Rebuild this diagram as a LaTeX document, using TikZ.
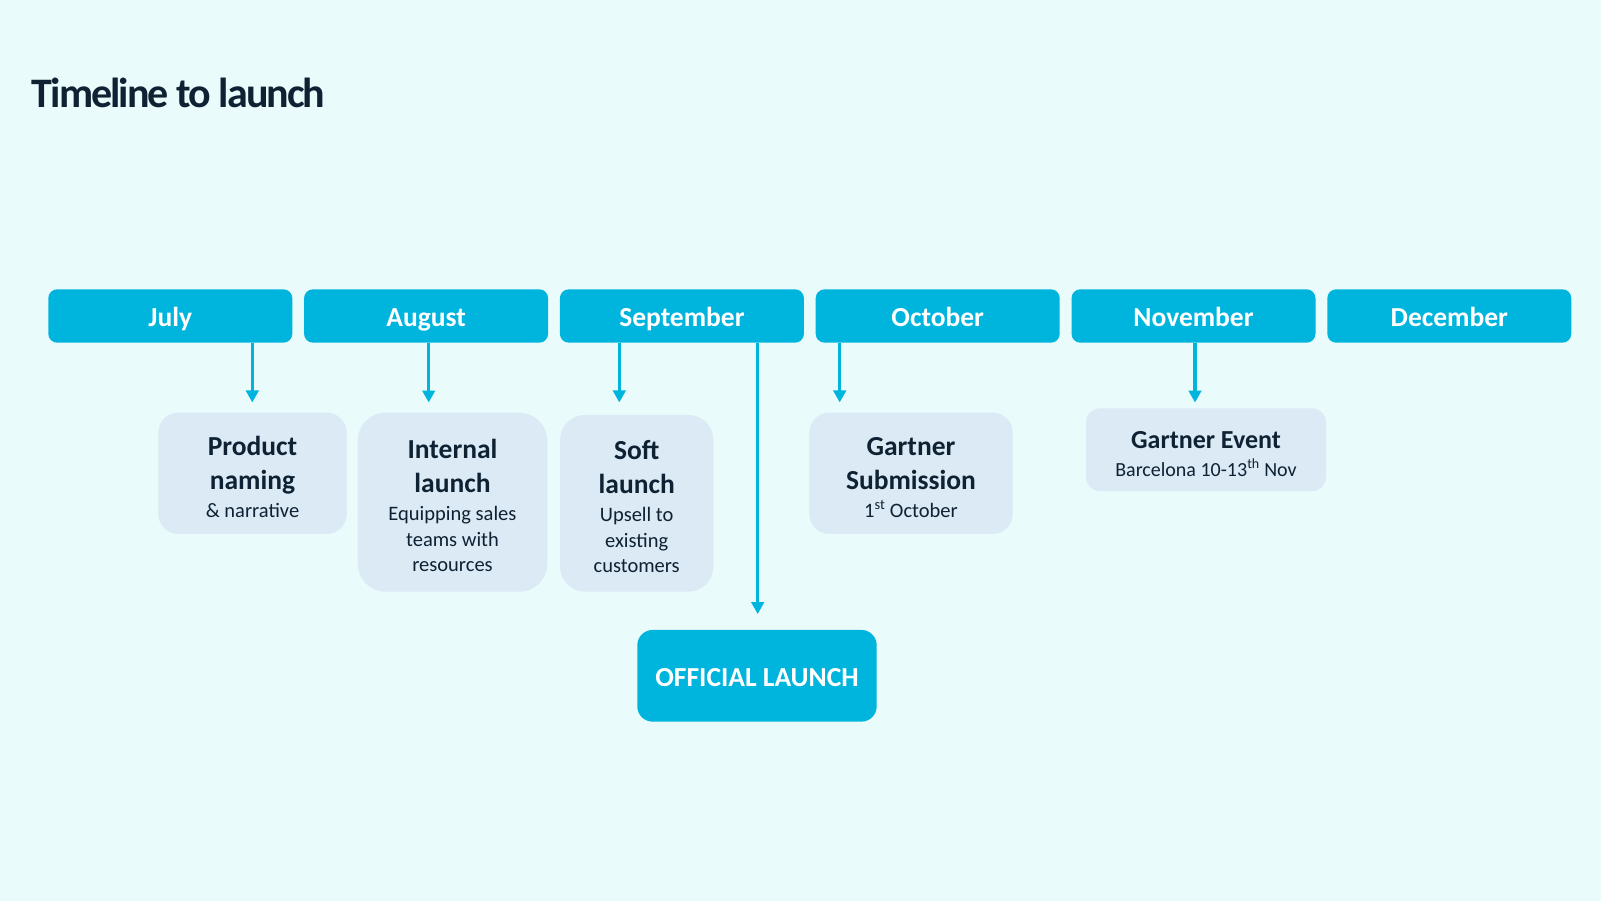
\documentclass[tikz,border=0pt]{standalone}
\usepackage{fontspec}
\setmainfont{Carlito}
\usetikzlibrary{arrows.meta}

\definecolor{sfondo}{RGB}{234,251,252}
\definecolor{ciano}{RGB}{0,181,221}
\definecolor{pallido}{RGB}{219,234,244}
\definecolor{inchiostro}{RGB}{14,34,51}

% righe in grassetto e righe piccole dentro i riquadri
\newcommand{\grosso}{\fontsize{27.5}{34.3}\bfseries\selectfont}
\newcommand{\piccolo}{\par\vspace{2pt}\fontsize{20.5}{25.7}\mdseries\selectfont}

\begin{document}
\begin{tikzpicture}[
    x=1pt,y=-1pt,
    mese/.style={rectangle,rounded corners=8.9pt,fill=ciano,text=white,inner sep=0pt,
      minimum width=244pt,minimum height=53.4pt,text height=20.5pt,text depth=0pt,
      font=\fontsize{27.5}{33}\bfseries\selectfont},
    evento/.style={rectangle,fill=pallido,text=inchiostro,inner sep=0pt,
      align=flush center,font=\grosso,execute at begin node={\rule{0pt}{26pt}}},
    lancio/.style={rectangle,rounded corners=15.3pt,fill=ciano,text=white,inner sep=0pt,
      minimum width=239.4pt,minimum height=91.7pt,text height=22pt,text depth=0pt,
      font=\fontsize{27.5}{33}\bfseries\selectfont},
    freccia/.style={draw=ciano,line width=3.5pt,-{Triangle[length=12pt,width=12.5pt]}}]

  \fill[sfondo] (0,0) rectangle (1601,901);
  \useasboundingbox (0,0) rectangle (1601,901);

  % ---- titolo ----------------------------------------------------------
  \node[anchor=base west,inner sep=0pt,text=inchiostro,
        font=\fontsize{42}{50}\bfseries\addfontfeatures{LetterSpace=-4.6}\selectfont]
    (titolo) at (31.5,107.3) {Timeline to launch};

  % ---- mesi ------------------------------------------------------------
  \foreach \n/\m [count=\i from 0] in {lug/July,ago/August,set/September,
                                        ott/October,nov/November,dic/December}
    \node[mese] (\n) at ({170.3+255.8*\i},316) {\m};

  % ---- riquadri --------------------------------------------------------
  \node[evento,minimum width=188.4pt,minimum height=121.3pt,text width=188.4pt,
        rounded corners=20pt] (prod) at (252.5,473.3)
    {Product\\ naming\piccolo \& narrative\par};

  \node[evento,minimum width=189.6pt,minimum height=179pt,text width=189.6pt,
        rounded corners=28pt] (intl) at (452.5,502.2)
    {Internal\\ launch\piccolo Equipping sales\\ teams with\\ resources\par};

  \node[evento,minimum width=153.3pt,minimum height=176.7pt,text width=153.3pt,
        rounded corners=25pt] (soft) at (636.7,503.3)
    {Soft\\ launch\piccolo Upsell to\\ existing\\ customers\par};

  \node[evento,minimum width=203.4pt,minimum height=121.3pt,text width=203.4pt,
        rounded corners=20pt] (gsub) at (911,473.3)
    {Gartner\\ Submission\piccolo 1\textsuperscript{st} October\par};

  \node[evento,minimum width=240pt,minimum height=82.7pt,text width=240pt,
        rounded corners=13.8pt] (gevt) at (1206,449.7)
    {\fontsize{26}{32}\bfseries\selectfont Gartner Event\par
     \fontsize{20}{27.6}\mdseries\selectfont Barcelona 10-13\textsuperscript{th} Nov\par};

  \node[lancio] (uff) at (757,675.8) {OFFICIAL LAUNCH};

  % ---- frecce ----------------------------------------------------------
  \coordinate (f1) at ( 252.3,342.7);   % luglio
  \coordinate (f2) at ( 428.7,342.7);   % agosto
  \coordinate (f3) at ( 619.3,342.7);   % settembre
  \coordinate (f4) at ( 757.7,342.7);   % settembre, lancio
  \coordinate (f5) at ( 839.7,342.7);   % ottobre
  \coordinate (f6) at (1195.0,342.7);   % novembre

  \draw[freccia,shorten >=10pt]   (f1) -- (f1 |- prod.north);
  \draw[freccia,shorten >=10pt]   (f2) -- (f2 |- intl.north);
  \draw[freccia,shorten >=12.3pt] (f3) -- (f3 |- soft.north);
  \draw[freccia,shorten >=15.7pt] (f4) -- (f4 |- uff.north);
  \draw[freccia,shorten >=10pt]   (f5) -- (f5 |- gsub.north);
  \draw[freccia,shorten >=5.6pt]  (f6) -- (f6 |- gevt.north);

\end{tikzpicture}
\end{document}
